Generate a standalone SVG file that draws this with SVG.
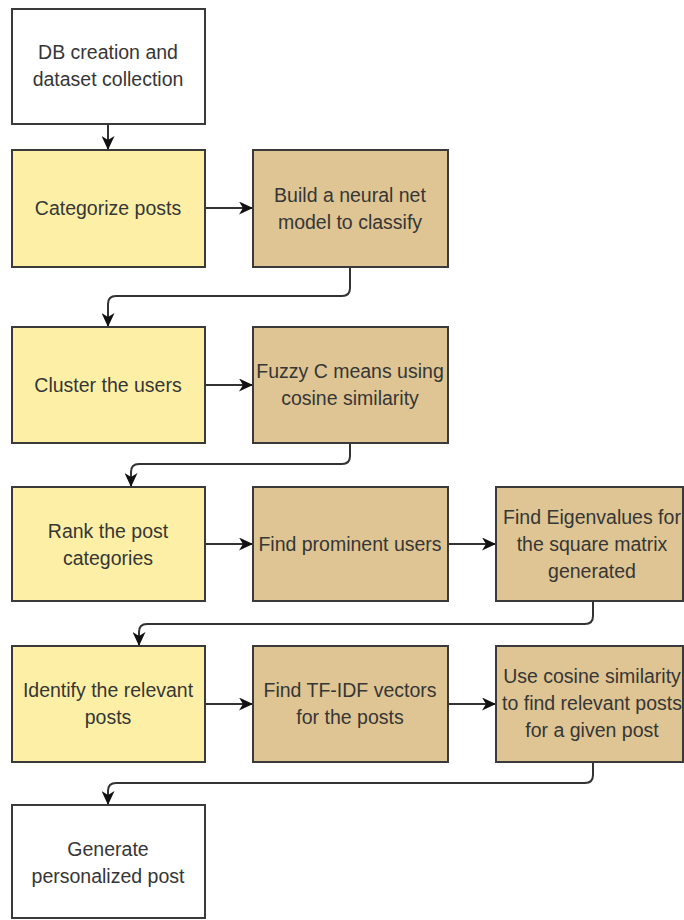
<svg xmlns="http://www.w3.org/2000/svg" width="684" height="920" viewBox="0 0 684 920">
  <style>
    .box { stroke: #3a3a3a; stroke-width: 2; }
    .white { fill: #ffffff; }
    .yellow { fill: #fdf0a6; }
    .tan { fill: #dec593; }
    .lbl { font-family: "Liberation Sans", Arial, sans-serif; font-size: 19.5px; fill: #363636; text-anchor: middle; }
    .edge { fill: none; stroke: #333333; stroke-width: 2; }
  </style>
  <defs>
    <marker id="arrow" viewBox="0 0 14 13" refX="13" refY="6.5" markerWidth="14" markerHeight="13" markerUnits="userSpaceOnUse" orient="auto">
      <path d="M0,0 L14,6.5 L0,13 L4,6.5 Z" fill="#111111"/>
    </marker>
  </defs>

  <rect width="684" height="920" fill="#ffffff"/>

  <!-- Connectors -->
  <g id="connectors" class="edges">
    <path class="edge" d="M108,124 V149" marker-end="url(#arrow)"/>
    <path class="edge" d="M205,208 H252" marker-end="url(#arrow)"/>
    <path class="edge" d="M350,267 V288 Q350,296 342,296 H116 Q108,296 108,304 V326" marker-end="url(#arrow)"/>
    <path class="edge" d="M205,385 H252" marker-end="url(#arrow)"/>
    <path class="edge" d="M350,443 V456 Q350,464 342,464 H139 Q131,464 131,472 V486" marker-end="url(#arrow)"/>
    <path class="edge" d="M205,544 H252" marker-end="url(#arrow)"/>
    <path class="edge" d="M448,544 H495" marker-end="url(#arrow)"/>
    <path class="edge" d="M593,601 V616 Q593,624 585,624 H147 Q139,624 139,632 V645" marker-end="url(#arrow)"/>
    <path class="edge" d="M205,704 H252" marker-end="url(#arrow)"/>
    <path class="edge" d="M448,704 H495" marker-end="url(#arrow)"/>
    <path class="edge" d="M593,762 V775 Q593,783 585,783 H116 Q108,783 108,791 V804" marker-end="url(#arrow)"/>
  </g>

  <!-- Row 1 -->
  <g id="db-creation">
    <rect class="box white" x="12" y="9" width="193" height="115"/>
    <text class="lbl" x="108" y="59">DB creation and</text>
    <text class="lbl" x="108" y="86">dataset collection</text>
  </g>

  <!-- Row 2 -->
  <g id="categorize-posts">
    <rect class="box yellow" x="12" y="150" width="193" height="117"/>
    <text class="lbl" x="108" y="215">Categorize posts</text>
  </g>
  <g id="neural-net">
    <rect class="box tan" x="253" y="150" width="195" height="117"/>
    <text class="lbl" x="350" y="202">Build a neural net</text>
    <text class="lbl" x="350" y="229">model to classify</text>
  </g>

  <!-- Row 3 -->
  <g id="cluster-users">
    <rect class="box yellow" x="12" y="327" width="193" height="116"/>
    <text class="lbl" x="108" y="392">Cluster the users</text>
  </g>
  <g id="fuzzy-c-means">
    <rect class="box tan" x="253" y="327" width="195" height="116"/>
    <text class="lbl" x="350" y="378">Fuzzy C means using</text>
    <text class="lbl" x="350" y="405">cosine similarity</text>
  </g>

  <!-- Row 4 -->
  <g id="rank-categories">
    <rect class="box yellow" x="12" y="487" width="193" height="114"/>
    <text class="lbl" x="108" y="538">Rank the post</text>
    <text class="lbl" x="108" y="565">categories</text>
  </g>
  <g id="prominent-users">
    <rect class="box tan" x="253" y="487" width="195" height="114"/>
    <text class="lbl" x="350" y="551">Find prominent users</text>
  </g>
  <g id="eigenvalues">
    <rect class="box tan" x="496" y="487" width="187" height="114"/>
    <text class="lbl" x="592" y="524">Find Eigenvalues for</text>
    <text class="lbl" x="592" y="551">the square matrix</text>
    <text class="lbl" x="592" y="578">generated</text>
  </g>

  <!-- Row 5 -->
  <g id="relevant-posts">
    <rect class="box yellow" x="12" y="646" width="193" height="116"/>
    <text class="lbl" x="108" y="697">Identify the relevant</text>
    <text class="lbl" x="108" y="724">posts</text>
  </g>
  <g id="tf-idf">
    <rect class="box tan" x="253" y="646" width="195" height="116"/>
    <text class="lbl" x="350" y="697">Find TF-IDF vectors</text>
    <text class="lbl" x="350" y="724">for the posts</text>
  </g>
  <g id="cosine-similarity">
    <rect class="box tan" x="496" y="646" width="187" height="116"/>
    <text class="lbl" x="592" y="683">Use cosine similarity</text>
    <text class="lbl" x="592" y="710">to find relevant posts</text>
    <text class="lbl" x="592" y="737">for a given post</text>
  </g>

  <!-- Row 6 -->
  <g id="personalized-post">
    <rect class="box white" x="12" y="805" width="193" height="113"/>
    <text class="lbl" x="108" y="856">Generate</text>
    <text class="lbl" x="108" y="883">personalized post</text>
  </g>
</svg>
